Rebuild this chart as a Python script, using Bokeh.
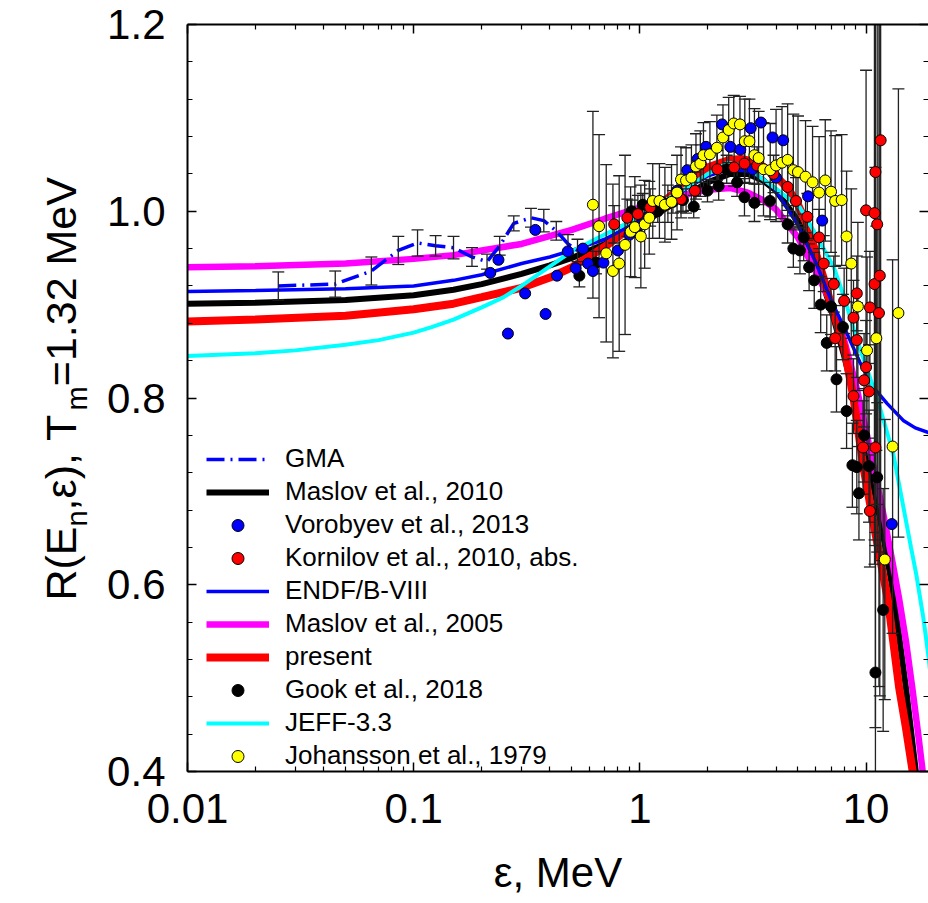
from bokeh.plotting import figure
from bokeh.layouts import row
from bokeh.core.properties import value
from bokeh.models import (ColumnDataSource, FixedTicker, LogAxis, LinearAxis,
                          PrintfTickFormatter, CustomJSTickFormatter, Legend,
                          LegendItem, Range1d)
from bokeh.embed import file_html
from bokeh.resources import INLINE

FONT = "Liberation Sans"

# ---------------- axes ----------------
x_ticks = [0.01, 0.1, 1, 10]
x_tick_labels = ["0.01", "0.1", "1", "10"]
x_minor = [m * d for d in (0.01, 0.1, 1, 10) for m in range(2, 10)]
y_ticks = [0.4, 0.6, 0.8, 1.0, 1.2]
y_minor = [0.44, 0.48, 0.52, 0.56, 0.64, 0.68, 0.72, 0.76, 0.84, 0.88, 0.92, 0.96,
           1.04, 1.08, 1.12, 1.16]
X_MIN, X_MAX = 0.01, 18.88
Y_MIN, Y_MAX = 0.4, 1.2

# ---------------- curves ----------------
m05_e = [0.01, 0.02, 0.05, 0.1, 0.15, 0.2, 0.3, 0.5, 0.7, 1.0, 1.3, 1.6, 2.0, 2.5, 3.0,
         3.5, 4.0, 5.0, 6.0, 7.0, 8.0, 9.0, 10.0, 11.0, 12.0, 13.0, 14.0, 15.0, 16.0,
         17.0, 18.0, 19.0]
m05_r = [0.940, 0.941, 0.944, 0.949, 0.953, 0.958, 0.965, 0.980, 0.992, 1.004, 1.012,
         1.018, 1.023, 1.025, 1.020, 1.012, 1.002, 0.972, 0.935, 0.902, 0.862, 0.815,
         0.765, 0.717, 0.672, 0.628, 0.585, 0.540, 0.490, 0.440, 0.390, 0.340]

pres_e = [0.01, 0.02, 0.05, 0.1, 0.15, 0.2, 0.3, 0.4, 0.5, 0.7, 1.0, 1.3, 1.6, 2.0, 2.5,
          2.8, 3.2, 3.6, 4.0, 4.5, 5.0, 5.5, 6.0, 6.5, 7.0, 8.0, 8.8, 9.75, 11.0, 12.5,
          14.0, 15.0, 16.0, 17.0]
pres_r = [0.882, 0.884, 0.888, 0.895, 0.901, 0.908, 0.918, 0.929, 0.940, 0.962, 0.990,
          1.012, 1.030, 1.047, 1.055, 1.056, 1.053, 1.046, 1.037, 1.025, 1.007, 0.985,
          0.955, 0.928, 0.900, 0.855, 0.800, 0.725, 0.655, 0.583, 0.490, 0.447, 0.403,
          0.360]

m10_e = [0.01, 0.02, 0.05, 0.1, 0.15, 0.2, 0.3, 0.4, 0.5, 0.7, 1.0, 1.3, 1.6, 2.0, 2.5,
         3.0, 3.5, 4.0, 5.0, 6.0, 7.0, 8.0, 9.0, 10.0, 11.0, 12.0, 13.0, 14.0, 15.0,
         16.6, 17.5]
m10_r = [0.901, 0.902, 0.905, 0.910, 0.916, 0.922, 0.933, 0.942, 0.950, 0.965, 0.985,
         1.003, 1.017, 1.031, 1.040, 1.040, 1.033, 1.022, 0.990, 0.945, 0.895, 0.845,
         0.795, 0.745, 0.695, 0.648, 0.600, 0.545, 0.490, 0.400, 0.350]

endf_e = [0.01, 0.02, 0.05, 0.1, 0.15, 0.2, 0.3, 0.4, 0.5, 0.7, 1.0, 1.3, 1.6, 2.0, 2.5,
          3.0, 3.5, 4.0, 5.0, 6.0, 7.0, 8.2, 9.4, 10.8, 12.4, 14.6, 16.5, 18.9, 20.0]
endf_r = [0.914, 0.915, 0.917, 0.920, 0.926, 0.932, 0.944, 0.951, 0.958, 0.970, 0.990,
          1.008, 1.024, 1.038, 1.045, 1.043, 1.035, 1.022, 0.985, 0.945, 0.905, 0.870,
          0.838, 0.811, 0.794, 0.776, 0.768, 0.763, 0.761]

jeff_e = [0.01, 0.02, 0.03, 0.05, 0.07, 0.1, 0.12, 0.15, 0.2, 0.25, 0.3, 0.4, 0.5, 0.67,
          0.8, 1.0, 1.3, 1.6, 2.0, 2.44, 3.0, 3.42, 4.0, 5.1, 6.0, 7.2, 8.1, 9.0, 10.4,
          11.5, 13.2, 15.8, 16.7, 17.9, 18.9, 20.0]
jeff_r = [0.845, 0.848, 0.851, 0.857, 0.862, 0.870, 0.876, 0.884, 0.897, 0.908, 0.920,
          0.941, 0.957, 0.973, 0.982, 0.995, 1.012, 1.025, 1.040, 1.052, 1.048, 1.036,
          1.024, 1.004, 0.975, 0.940, 0.904, 0.866, 0.822, 0.790, 0.740, 0.640, 0.610,
          0.565, 0.522, 0.470]

gma_e = [0.0252, 0.045, 0.065, 0.0855, 0.104, 0.125, 0.150, 0.181, 0.211, 0.240, 0.277,
         0.330, 0.376, 0.427, 0.481, 0.53]
gma_r = [0.920, 0.922, 0.936, 0.958, 0.966, 0.963, 0.961, 0.951, 0.946, 0.963, 0.987,
         0.993, 0.990, 0.979, 0.965, 0.958]
gma_err = [0.015, 0.014, 0.015, 0.015, 0.014, 0.011, 0.012, 0.010, 0.008, 0.010, 0.008,
           0.010, 0.012, 0.010, 0.010, 0.012]

# ---------------- experimental points ----------------
vor_e = [0.218, 0.237, 0.261, 0.311, 0.345, 0.383, 0.43, 0.48, 0.52, 0.56, 0.59, 0.62,
         0.69, 0.80, 0.9, 1.0, 1.1, 1.25, 1.46, 1.62, 1.80, 1.96, 2.31, 2.51, 2.78, 3.09,
         3.15, 3.43, 3.86, 4.0, 4.3, 5.54, 6.4, 13.0]
vor_r = [0.934, 0.948, 0.869, 0.912, 0.980, 0.890, 0.931, 0.957, 0.939, 0.960, 0.944,
         0.936, 0.945, 0.958, 0.975, 0.985, 0.995, 1.010, 1.022, 1.044, 1.056, 1.069,
         1.093, 1.069, 1.066, 1.089, 1.045, 1.095, 1.079, 1.036, 1.076, 1.016, 0.990,
         0.665]

kor_e = [0.77, 0.88, 0.98, 1.11, 1.33, 1.52, 1.75, 1.86, 2.2, 2.61, 2.9, 3.3, 3.9, 4.5,
         4.9, 5.5, 6.2, 6.5, 7.2, 7.3, 8.0, 8.8, 8.8, 9.1, 9.1, 9.7, 9.8, 10.0, 10.3, 10.4,
         10.4, 10.0, 10.9, 10.9, 11.0, 11.0, 11.2, 11.4, 11.5, 11.6]
kor_r = [0.986, 0.993, 0.997, 1.004, 1.008, 1.013, 1.022, 1.051, 1.045, 1.047, 1.051,
         1.049, 1.040, 1.026, 1.011, 0.994, 0.972, 0.944, 0.922, 0.864, 0.904, 0.886,
         0.802, 0.912, 0.862, 0.747, 0.819, 0.833, 0.807, 0.897, 0.679, 1.001, 0.998,
         0.922, 1.042, 0.747, 0.986, 0.891, 0.931, 1.076]
kor_err = [0.02, 0.02, 0.02, 0.02, 0.02, 0.02, 0.02, 0.02, 0.02, 0.02, 0.02, 0.02, 0.02,
           0.025, 0.025, 0.025, 0.03, 0.03, 0.03, 0.035, 0.035, 0.04, 0.04, 0.04, 0.04,
           0.05, 0.05, 0.05, 0.05, 0.06, 0.06, 0.15, 0.35, 0.3, 0.4, 0.3, 0.3, 0.4, 0.45,
           0.45]

gook_e = [0.54, 0.64, 0.92, 1.03, 1.2, 1.4, 1.55, 1.73, 1.99, 2.23, 2.42, 2.69, 2.9, 3.21,
          3.76, 4.5, 4.77, 5.1, 5.3, 5.6, 5.9, 6.3, 6.7, 7.0, 7.4, 7.9, 8.2, 8.7, 9.1, 9.3,
          9.8, 10.3, 11.0, 11.2, 11.9]
gook_r = [0.931, 0.945, 1.000, 1.007, 1.000, 1.010, 1.012, 1.005, 1.022, 1.027, 1.045,
          1.031, 1.015, 1.009, 1.011, 0.986, 0.960, 0.958, 0.972, 0.940, 0.926, 0.900,
          0.859, 0.898, 0.820, 0.876, 0.786, 0.728, 0.726, 0.698, 0.760, 0.727, 0.506,
          0.715, 0.573]
gook_err = [0.012, 0.012, 0.012, 0.012, 0.012, 0.012, 0.012, 0.012, 0.012, 0.015, 0.015,
            0.015, 0.02, 0.02, 0.02, 0.02, 0.02, 0.025, 0.025, 0.025, 0.03, 0.03, 0.03,
            0.03, 0.035, 0.035, 0.04, 0.045, 0.05, 0.05, 0.05, 0.06, 0.15, 0.08, 0.13]

joh_e = [0.62, 0.66, 0.71, 0.76, 0.81, 0.86, 0.91, 0.95, 1.01, 1.05, 1.10, 1.14, 1.22,
         1.29, 1.38, 1.46, 1.52, 1.60, 1.69, 1.77, 1.85, 1.91, 2.04, 2.19, 2.33, 2.47, 2.60,
         2.77, 2.91, 3.05, 3.21, 3.35, 3.52, 3.77, 4.0, 4.25, 4.5, 4.77, 5.0, 5.4, 5.8, 6.2,
         6.6, 7.0, 7.3, 7.8, 8.2, 8.6, 9.2, 10.1, 11.1, 12.1, 13.1, 13.9]
joh_r = [1.007, 0.984, 0.955, 0.936, 0.944, 0.964, 0.978, 0.983, 0.973, 0.986, 0.993,
         1.011, 1.011, 1.007, 1.010, 1.020, 1.034, 1.033, 1.036, 1.048, 1.051, 1.060,
         1.061, 1.068, 1.079, 1.087, 1.094, 1.093, 1.075, 1.075, 1.060, 1.057, 1.045,
         1.044, 1.049, 1.052, 1.055, 1.044, 1.042, 1.037, 1.031, 1.020, 1.033, 1.021,
         1.011, 1.012, 0.973, 0.944, 0.898, 0.851, 0.864, 0.627, 0.748, 0.891]
joh_err = [0.10, 0.098, 0.095, 0.093, 0.094, 0.096, 0.048, 0.054, 0.055, 0.047, 0.039,
           0.04, 0.04, 0.04, 0.04, 0.04, 0.035, 0.035, 0.035, 0.035, 0.035, 0.035, 0.035,
           0.035, 0.035, 0.035, 0.03, 0.03, 0.045, 0.045, 0.05, 0.05, 0.05, 0.05, 0.06,
           0.06, 0.06, 0.06, 0.06, 0.06, 0.06, 0.06, 0.065, 0.065, 0.07, 0.07, 0.07, 0.08,
           0.09, 0.10, 0.12, 0.15, 0.2, 0.24]

# ---------------- y-axis title (drawn in a narrow side figure) ----------------
y_title_parts = ["R(E", "n", ",ε), T", "m", "=1.32 MeV"]

# ---------------- layout constants ----------------
W, H = 928, 903
WY = 104                       # width of the side figure that holds the y title
FL, FT, FB = 186, 24, 771      # frame left / top / bottom (canvas px)

# ---------------- main figure ----------------
p = figure(width=W - WY, height=H, x_axis_type="log",
           x_range=Range1d(X_MIN, X_MAX), y_range=Range1d(Y_MIN, Y_MAX),
           output_backend="svg", toolbar_location=None,
           min_border_left=FL - WY, min_border_right=0, min_border_top=FT,
           min_border_bottom=H - FB)
p.outline_line_color = None
p.xgrid.visible = False
p.ygrid.visible = False
p.background_fill_color = "white"
p.border_fill_color = "white"

xfmt = CustomJSTickFormatter(args=dict(vals=x_ticks, labs=x_tick_labels), code="""
for (let i = 0; i < vals.length; i++) {
  if (Math.abs(Math.log10(vals[i]) - Math.log10(tick)) < 1e-6) return labs[i];
}
return '';
""")


def style_axis(ax, show_labels=True):
    ax.axis_line_width = 2
    ax.axis_line_color = "black"
    ax.major_tick_in = 9
    ax.major_tick_out = 0
    ax.minor_tick_in = 5
    ax.minor_tick_out = 0
    ax.major_tick_line_width = 1.5
    ax.minor_tick_line_width = 1.2
    ax.major_tick_line_color = "black"
    ax.minor_tick_line_color = "black"
    ax.major_label_text_font = FONT
    if show_labels:
        ax.major_label_text_font_size = "42px"
        ax.major_label_text_color = "black"
    else:
        ax.major_label_text_font_size = "1px"
        ax.major_label_text_color = None
        ax.major_label_standoff = 0


xa = p.xaxis[0]
xa.ticker = FixedTicker(ticks=x_ticks, minor_ticks=x_minor)
xa.formatter = xfmt
style_axis(xa)
xa.major_label_standoff = 22
xa.axis_label = "ε, MeV"
xa.axis_label_text_font = FONT
xa.axis_label_text_font_size = "42px"
xa.axis_label_text_font_style = "normal"
xa.axis_label_text_color = "black"
xa.axis_label_standoff = 23

ya = p.yaxis[0]
ya.ticker = FixedTicker(ticks=y_ticks, minor_ticks=y_minor)
ya.formatter = PrintfTickFormatter(format="%.1f")
style_axis(ya)
ya.major_label_standoff = 22

top = LogAxis(ticker=FixedTicker(ticks=x_ticks, minor_ticks=x_minor),
              formatter=CustomJSTickFormatter(code="return '';"))
style_axis(top, False)
p.add_layout(top, "above")

right = LinearAxis(ticker=FixedTicker(ticks=y_ticks, minor_ticks=y_minor),
                   formatter=CustomJSTickFormatter(code="return '';"))
style_axis(right, False)
right.axis_line_color = None
p.add_layout(right, "right")

# ---------------- curves ----------------
r_m10 = p.line(m10_e, m10_r, line_color="black", line_width=6)
r_m05 = p.line(m05_e, m05_r, line_color="#ff00ff", line_width=6.5)
r_pres = p.line(pres_e, pres_r, line_color="#ff0000", line_width=8)
r_endf = p.line(endf_e, endf_r, line_color="#0000ff", line_width=3.5)
r_jeff = p.line(jeff_e, jeff_r, line_color="#00ffff", line_width=4)
r_gma = p.line(gma_e, gma_r, line_color="#0000ff", line_width=3.5, line_dash="18 6 2 6")

# ---------------- error bars ----------------
EB = "#222222"


def error_bars(xs, ys, errs):
    lo = [y - e for y, e in zip(ys, errs)]
    hi = [y + e for y, e in zip(ys, errs)]
    src = ColumnDataSource(dict(x=xs, lo=lo, hi=hi))
    p.segment(x0="x", y0="lo", x1="x", y1="hi", source=src, line_color=EB, line_width=1.3)
    p.scatter(x="x", y="lo", source=src, marker="dash", size=12, line_color=EB,
              line_width=1.3)
    p.scatter(x="x", y="hi", source=src, marker="dash", size=12, line_color=EB,
              line_width=1.3)


error_bars(gma_e, gma_r, gma_err)
error_bars(gook_e, gook_r, gook_err)
error_bars(kor_e, kor_r, kor_err)
error_bars(joh_e, joh_r, joh_err)

# ---------------- points ----------------
MS = 11
r_gook = p.scatter(gook_e, gook_r, size=MS, fill_color="black", line_color="black")
r_vor = p.scatter(vor_e, vor_r, size=MS, fill_color="#0000ff", line_color="black",
                  line_width=1)
r_kor = p.scatter(kor_e, kor_r, size=MS, fill_color="#ff0000", line_color="black",
                  line_width=1)
r_joh = p.scatter(joh_e, joh_r, size=MS, fill_color="#ffff00", line_color="black",
                  line_width=1)

# ---------------- legend ----------------
legend = Legend(items=[
    LegendItem(label="GMA", renderers=[r_gma]),
    LegendItem(label="Maslov et al., 2010", renderers=[r_m10]),
    LegendItem(label="Vorobyev et al., 2013", renderers=[r_vor]),
    LegendItem(label="Kornilov et al., 2010, abs.", renderers=[r_kor]),
    LegendItem(label="ENDF/B-VIII", renderers=[r_endf]),
    LegendItem(label="Maslov et al., 2005", renderers=[r_m05]),
    LegendItem(label="present", renderers=[r_pres]),
    LegendItem(label="Gook et al., 2018", renderers=[r_gook]),
    LegendItem(label="JEFF-3.3", renderers=[r_jeff]),
    LegendItem(label="Johansson et al., 1979", renderers=[r_joh]),
], location=(19, 0))
legend.label_text_font = FONT
legend.label_text_font_size = "26px"
legend.label_text_color = "black"
legend.glyph_width = 63
legend.glyph_height = 30
legend.label_height = 30
legend.spacing = 2
legend.padding = 0
legend.margin = 0
legend.label_standoff = 16
legend.background_fill_alpha = 0
legend.border_line_alpha = 0
p.add_layout(legend, "center")

# ---------------- side figure with the rotated y title ----------------
# In a row, Bokeh aligns this figure's frame with the main frame (rows FT..FB),
# so its y range is given in "pixels from the canvas bottom" over that same span.
yf = figure(width=WY, height=H, x_range=Range1d(0, WY), y_range=Range1d(H - FB, H - FT),
            output_backend="svg", toolbar_location=None,
            x_axis_location=None, y_axis_location=None,
            min_border_left=0, min_border_right=0, min_border_top=FT,
            min_border_bottom=H - FB)
yf.outline_line_color = None
yf.xgrid.visible = False
yf.ygrid.visible = False
yf.background_fill_color = "white"
yf.border_fill_color = "white"

# baseline x, start y (from canvas top), font sizes, subscript shift, advance per part
base_x, start_y = 60, 600
sizes = [43, 29, 43, 29, 43]
shifts = [0, 16, 0, 16, 0]
advances = [74.0, 16.1, 100.0, 24.2, 209.2]
cy = start_y
for txt, fs, sh, adv in zip(y_title_parts, sizes, shifts, advances):
    yf.text(x=[base_x + sh], y=[H - cy], text=[txt], angle=90, angle_units="deg",
            text_font=value(FONT), text_font_size=value(f"{fs}px"),
            text_color="black", text_align="left", text_baseline="alphabetic")
    cy -= adv

layout = row(yf, p, spacing=0)
open("out.html", "w").write(file_html(layout, INLINE))
